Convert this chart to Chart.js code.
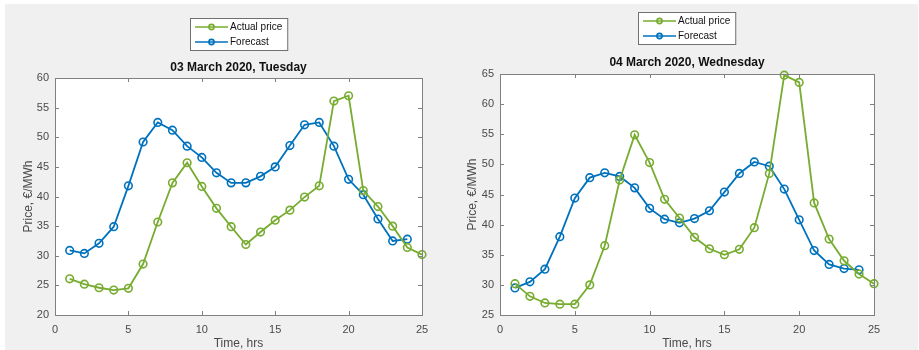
<!DOCTYPE html>
<html>
<head>
<meta charset="utf-8">
<script src="https://cdn.jsdelivr.net/npm/chart.js@4.4.1/dist/chart.umd.min.js"></script>
<style>
  body { margin: 0; background: #fff; }
  #fig { position: absolute; left: 5px; top: 4px; width: 913px; height: 346px; background: #f0f0f0; }
  canvas { position: absolute; top: 0; }
</style>
</head>
<body>
<div id="fig"></div>
<canvas id="tue" width="460" height="350" style="left:0;width:460px;height:350px"></canvas>
<canvas id="wed" width="460" height="350" style="left:459px;width:460px;height:350px"></canvas>
<script>
// hours of the day
var hours = [1, 2, 3, 4, 5, 6, 7, 8, 9, 10, 11, 12, 13, 14, 15, 16, 17, 18, 19, 20, 21, 22, 23, 24, 25];

// 03 March 2020
var tueActual = [26.1, 25.2, 24.6, 24.2, 24.5, 28.6, 35.7, 42.3, 45.7, 41.7, 38.0, 34.9, 31.9, 34.0, 36.0, 37.7, 39.9, 41.8, 56.1, 57.0, 41.0, 38.3, 35.0, 31.4, 30.2];
var tueForecast = [30.9, 30.4, 32.1, 34.9, 41.8, 49.2, 52.5, 51.2, 48.5, 46.6, 44.0, 42.3, 42.3, 43.4, 45.0, 48.6, 52.1, 52.5, 48.5, 42.9, 40.3, 36.2, 32.5, 32.8];

// 04 March 2020
var wedActual = [30.2, 28.1, 27.0, 26.8, 26.8, 30.0, 36.5, 47.4, 54.9, 50.3, 44.2, 41.1, 37.9, 36.0, 35.0, 35.9, 39.5, 48.5, 64.8, 63.6, 43.6, 37.6, 34.0, 31.8, 30.2];
var wedForecast = [29.5, 30.5, 32.6, 38.0, 44.4, 47.8, 48.6, 48.0, 46.1, 42.7, 40.9, 40.3, 41.0, 42.3, 45.4, 48.5, 50.4, 49.7, 45.9, 40.8, 35.7, 33.4, 32.7, 32.5];

var tueRange = [20, 60];
var wedRange = [25, 65];
var xRange = [0, 25];

var green = '#77ac30';
var blue = '#0072bd';
var txt = '#4a4a4a';
var fontFam = '"Liberation Sans", Arial, Helvetica, sans-serif';

function pts(vals) {
  return vals.map(function(v, i) { return { x: hours[i], y: v }; });
}

// white axes area, box with inward ticks, title and legend like matlab
var frame = {
  id: 'frame',
  beforeDraw: function(chart) {
    var a = chart.chartArea, ctx = chart.ctx;
    ctx.save();
    ctx.fillStyle = '#fff';
    ctx.fillRect(a.left, a.top, a.right - a.left, a.bottom - a.top);
    ctx.restore();
  },
  afterDraw: function(chart, args, o) {
    var a = chart.chartArea, ctx = chart.ctx;
    var xs = chart.scales.x, ys = chart.scales.y;
    ctx.save();
    ctx.strokeStyle = '#808080';
    ctx.lineWidth = 1;
    ctx.strokeRect(Math.round(a.left) + 0.5, Math.round(a.top) + 0.5, Math.round(a.right - a.left), Math.round(a.bottom - a.top));
    ctx.beginPath();
    xs.ticks.forEach(function(t) {
      var px = Math.round(xs.getPixelForValue(t.value)) + 0.5;
      ctx.moveTo(px, a.bottom); ctx.lineTo(px, a.bottom - 4);
      ctx.moveTo(px, a.top); ctx.lineTo(px, a.top + 4);
    });
    ys.ticks.forEach(function(t) {
      var py = Math.round(ys.getPixelForValue(t.value)) + 0.5;
      ctx.moveTo(a.left, py); ctx.lineTo(a.left + 4, py);
      ctx.moveTo(a.right, py); ctx.lineTo(a.right - 4, py);
    });
    ctx.stroke();

    // title
    var cx = (a.left + a.right) / 2;
    ctx.fillStyle = '#111';
    ctx.font = 'bold 12px ' + fontFam;
    ctx.textAlign = 'center';
    ctx.textBaseline = 'middle';
    ctx.fillText(o.title, cx, o.titleY);

    // legend
    ctx.font = '10px ' + fontFam;
    var sets = chart.data.datasets;
    var tw = 0;
    sets.forEach(function(d) { tw = Math.max(tw, ctx.measureText(d.label).width); });
    var w = 5 + 33 + 2 + tw + 5, h = 32;
    var lx = Math.round(cx - w / 2), ly = o.legendTop;
    ctx.fillStyle = '#fff';
    ctx.fillRect(lx, ly, w, h);
    ctx.strokeStyle = '#707070';
    ctx.strokeRect(lx + 0.5, ly + 0.5, w, h);
    ctx.textAlign = 'left';
    sets.forEach(function(d, i) {
      var ry = ly + 9 + i * 15;
      ctx.strokeStyle = d.borderColor;
      ctx.lineWidth = 1.6;
      ctx.beginPath();
      ctx.moveTo(lx + 5, ry); ctx.lineTo(lx + 38, ry);
      ctx.stroke();
      ctx.beginPath();
      ctx.arc(lx + 21.5, ry, 2.6, 0, Math.PI * 2);
      ctx.stroke();
      ctx.fillStyle = '#111';
      ctx.fillText(d.label, lx + 40, ry + 0.5);
    });
    ctx.restore();
  }
};

function makeChart(id, actual, forecast, range, opt) {
  return new Chart(document.getElementById(id), {
    type: 'line',
    data: {
      datasets: [
        { label: 'Actual price', data: pts(actual), borderColor: green, backgroundColor: 'transparent',
          pointBackgroundColor: 'transparent', pointBorderColor: green },
        { label: 'Forecast', data: pts(forecast), borderColor: blue, backgroundColor: 'transparent',
          pointBackgroundColor: 'transparent', pointBorderColor: blue }
      ]
    },
    options: {
      responsive: false,
      animation: false,
      layout: { padding: { left: 0, top: opt.top, right: opt.right, bottom: 0 } },
      elements: {
        line: { borderWidth: 1.8, tension: 0 },
        point: { radius: 3.8, borderWidth: 1.6, hoverRadius: 3.8 }
      },
      datasets: { line: { clip: false } },
      scales: {
        x: {
          type: 'linear', min: xRange[0], max: xRange[1],
          grid: { display: false, drawTicks: false }, border: { display: false },
          ticks: { stepSize: 5, padding: 8, color: txt, font: { family: fontFam, size: 11 } },
          title: { display: true, text: 'Time, hrs', color: txt, padding: { top: 0, bottom: -1 }, font: { family: fontFam, size: 12 } },
          afterFit: function(s) { s.height = 35; }
        },
        y: {
          min: range[0], max: range[1],
          grid: { display: false, drawTicks: false }, border: { display: false },
          ticks: { stepSize: 5, padding: 6, color: txt, font: { family: fontFam, size: 11 } },
          title: { display: true, text: 'Price, €/MWh', color: txt, padding: { top: opt.ytitle, bottom: 0 }, font: { family: fontFam, size: 12 } },
          afterFit: function(s) { s.width = opt.yw; }
        }
      },
      plugins: {
        legend: { display: false },
        tooltip: { enabled: false },
        frame: { title: opt.title, titleY: opt.titleY, legendTop: opt.legendTop }
      }
    },
    plugins: [frame]
  });
}

makeChart('tue', tueActual, tueForecast, tueRange,
  { top: 78, right: 38, yw: 55, ytitle: 21, title: '03 March 2020, Tuesday', titleY: 68, legendTop: 18 });
makeChart('wed', wedActual, wedForecast, wedRange,
  { top: 74, right: 45, yw: 41, ytitle: 6, title: '04 March 2020, Wednesday', titleY: 63, legendTop: 12 });
</script>
</body>
</html>
